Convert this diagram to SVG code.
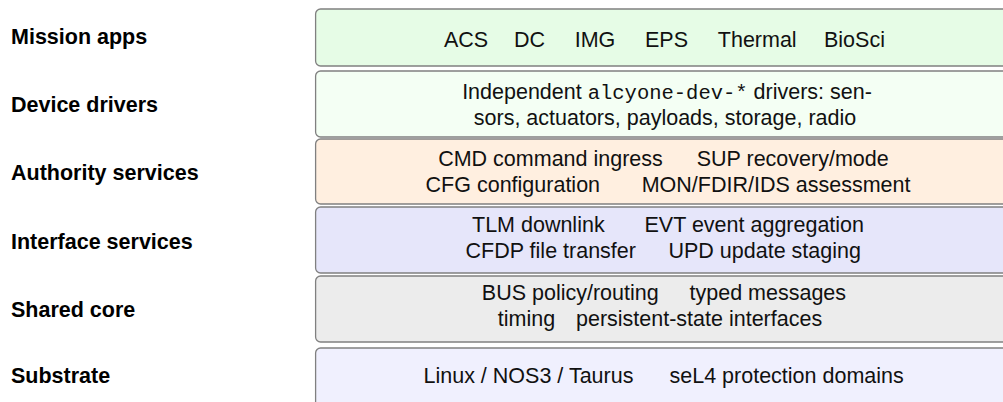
<svg xmlns="http://www.w3.org/2000/svg" width="1003" height="402" viewBox="0 0 1003 402">
<style>
.lbl{font-family:"Liberation Sans",Arial,sans-serif;font-weight:bold;font-size:21.5px;fill:#000}
.t{font-family:"Liberation Sans",Arial,sans-serif;font-size:21.5px;fill:#111}
.mono{font-family:"Liberation Mono","Courier New",monospace;font-size:20.5px}
.box{stroke:#808080;stroke-width:1.3}
</style>
<rect width="1003" height="402" fill="#fff"/>
<g id="mission">
<rect class="box" x="315.6" y="9" width="720" height="57" rx="5" fill="#e6fce6"/>
<text class="lbl" x="11" y="43.5">Mission apps</text>
<text class="t" y="46.7"><tspan x="444">ACS</tspan><tspan x="514">DC</tspan><tspan x="574.7">IMG</tspan><tspan x="645">EPS</tspan><tspan x="717.8">Thermal</tspan><tspan x="824">BioSci</tspan></text>
</g>
<g id="drivers">
<rect class="box" x="315.6" y="71" width="720" height="66" rx="5" fill="#f4fff4"/>
<text class="lbl" x="11" y="112">Device drivers</text>
<text class="t" x="667" y="99.3" text-anchor="middle">Independent <tspan class="mono">alcyone-dev-*</tspan> drivers: sen-</text>
<text class="t" x="665" y="125" text-anchor="middle">sors, actuators, payloads, storage, radio</text>
</g>
<g id="authority">
<rect class="box" x="315.6" y="139" width="720" height="65" rx="5" fill="#ffefe0"/>
<text class="lbl" x="11" y="180">Authority services</text>
<text class="t" y="166"><tspan x="438.2">CMD command ingress</tspan><tspan x="696.7">SUP recovery/mode</tspan></text>
<text class="t" y="191.7"><tspan x="425.6">CFG configuration</tspan><tspan x="641.7">MON/FDIR/IDS assessment</tspan></text>
</g>
<g id="interface">
<rect class="box" x="315.6" y="207" width="720" height="66" rx="5" fill="#e6e6fa"/>
<text class="lbl" x="11" y="249">Interface services</text>
<text class="t" y="232"><tspan x="472">TLM downlink</tspan><tspan x="644.5">EVT event aggregation</tspan></text>
<text class="t" y="258"><tspan x="465.5">CFDP file transfer</tspan><tspan x="668.5">UPD update staging</tspan></text>
</g>
<g id="core">
<rect class="box" x="315.6" y="276" width="720" height="66" rx="5" fill="#ececec"/>
<text class="lbl" x="11" y="317">Shared core</text>
<text class="t" y="300"><tspan x="481.8">BUS policy/routing</tspan><tspan x="689.5">typed messages</tspan></text>
<text class="t" y="325.5"><tspan x="497.8">timing</tspan><tspan x="576">persistent-state interfaces</tspan></text>
</g>
<g id="substrate">
<rect class="box" x="315.6" y="348" width="720" height="70" rx="5" fill="#f0f0fe"/>
<text class="lbl" x="11" y="383.3">Substrate</text>
<text class="t" y="383.3"><tspan x="423.5">Linux / NOS3 / Taurus</tspan><tspan x="669.5">seL4 protection domains</tspan></text>
</g>
</svg>
